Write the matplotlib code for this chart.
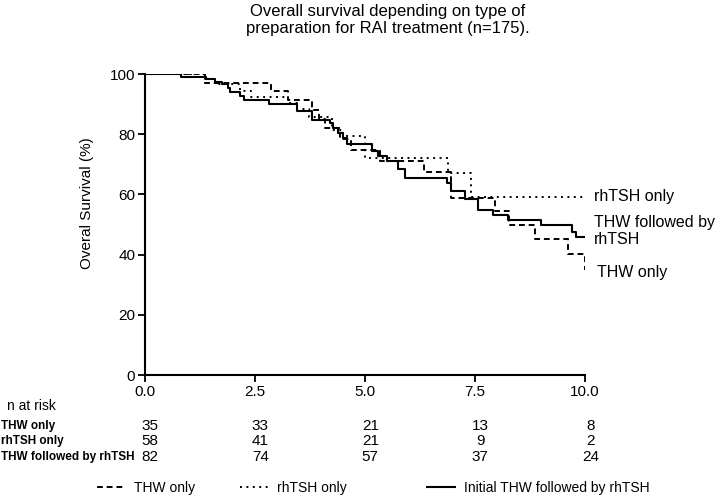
import matplotlib
matplotlib.use("Agg")
import matplotlib.pyplot as plt
from matplotlib import transforms

plt.rcParams['font.family'] = ['Liberation Sans', 'DejaVu Sans']

# Kaplan-Meier steps (years, % surviving)
thw_t = [0, 1.36, 2.86, 3.25, 3.79, 3.95, 4.09, 4.43, 4.68, 5.34, 6.35, 6.95, 7.96, 8.27, 8.86, 9.62, 10.0]
thw_v = [100, 97.1, 94.3, 91.2, 88.2, 85.2, 82.2, 78.3, 74.7, 71.0, 67.4, 58.9, 54.4, 49.9, 45.3, 40.2, 35.0]

rh_t = [0, 1.36, 1.6, 2.17, 2.4, 3.25, 3.45, 3.73, 4.24, 4.5, 5.0, 6.88, 7.42, 10.0]
rh_v = [100, 98.3, 96.6, 94.5, 92.4, 90.4, 88.4, 85.8, 81.5, 79.3, 72.0, 67.0, 59.1, 59.1]

both_t = [0, 0.81, 1.38, 1.6, 1.75, 1.88, 1.94, 2.17, 2.25, 2.82, 3.46, 3.8, 4.2, 4.28, 4.39,
          4.5, 4.58, 5.15, 5.3, 5.49, 5.76, 5.91, 6.86, 6.95, 7.27, 7.56, 7.92, 8.25, 9.0,
          9.7, 9.8, 10.0]
both_v = [100, 99.0, 98.2, 97.3, 96.6, 95.5, 94.0, 92.7, 91.3, 90.0, 87.6, 84.8, 83.6, 82.0, 80.3,
          78.7, 76.7, 74.3, 72.6, 71.2, 68.4, 65.6, 63.8, 61.0, 58.5, 54.8, 53.3, 51.5, 49.8,
          47.5, 46.0, 46.0]

# numbers at risk
risk_times = [0, 2.5, 5.0, 7.5, 10.0]
risk_rows = ['THW only', 'rhTSH only', 'THW followed by rhTSH']
risk_thw = [35, 33, 21, 13, 8]
risk_rh = [58, 41, 21, 9, 2]
risk_both = [82, 74, 57, 37, 24]

xticks = [0, 2.5, 5.0, 7.5, 10.0]
yticks = [0, 20, 40, 60, 80, 100]

fig = plt.figure(figsize=(7.2, 4.98), dpi=100)
ax = fig.add_axes([145 / 720, 1 - 375 / 498, 440 / 720, 301 / 498])

l1, = ax.step(thw_t, thw_v, where='post', color='black', lw=1.4, ls=(0, (3, 2)))
l2, = ax.step(rh_t, rh_v, where='post', color='black', lw=1.4, ls=(0, (1, 2.3)))
l3, = ax.step(both_t, both_v, where='post', color='black', lw=1.5)

ax.set_xlim(0, 10)
ax.set_ylim(0, 100)
ax.set_xticks(xticks)
ax.set_xticklabels(['%.1f' % x for x in xticks])
ax.set_yticks(yticks)
for s in ['top', 'right']:
    ax.spines[s].set_visible(False)
for s in ['left', 'bottom']:
    ax.spines[s].set_linewidth(1.5)
ax.tick_params(direction='out', length=5, width=1.3, labelsize=11, pad=2)
ax.set_ylabel('Overal Survival (%)', fontsize=11)
ax.yaxis.set_label_coords(-0.115, 0.57)

# curve labels at right end
ax.text(10.2, 59.3, 'rhTSH only', fontsize=11.5, va='center', clip_on=False)
ax.text(10.2, 47.9, 'THW followed by\nrhTSH', fontsize=11.5, va='center', clip_on=False,
        linespacing=1.2)
ax.text(10.28, 34.0, 'THW only', fontsize=11.5, va='center', clip_on=False)

fig.text(0.539, 0.96, 'Overall survival depending on type of\npreparation for RAI treatment (n=175).',
         ha='center', va='center', fontsize=12, linespacing=1.2)

# n at risk table
fig.text(0.01, 1 - 406 / 498, 'n at risk', fontsize=10, va='center')
trans = transforms.blended_transform_factory(ax.transData, fig.transFigure)
row_y = [1 - 426 / 498, 1 - 441 / 498, 1 - 457 / 498]
for name, counts, y in zip(risk_rows, [risk_thw, risk_rh, risk_both], row_y):
    fig.text(0.002, y, name, fontsize=8.5, fontweight='bold', va='center')
    for t, n in zip(risk_times, counts):
        ax.text(t + 0.12, y, str(n), transform=trans, ha='center', va='center',
                fontsize=11, clip_on=False)

# legend entries spread along the bottom
leg_y = 1 - 488 / 498
for line, lab, x0 in [(l1, 'THW only', 97), (l2, 'rhTSH only', 240),
                      (l3, 'Initial THW followed by rhTSH', 427)]:
    fig.legend([line], [lab], bbox_to_anchor=(x0 / 720, leg_y), loc='center left',
               frameon=False, handlelength=2.0, handletextpad=0.65, fontsize=10,
               borderaxespad=0, borderpad=0)

fig.savefig('out.png', dpi=100)
